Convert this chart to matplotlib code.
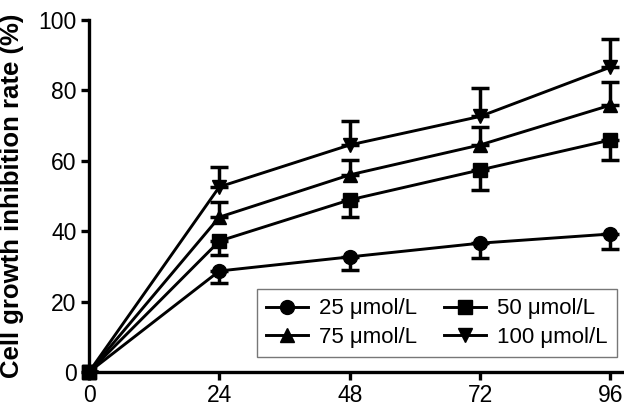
import matplotlib
matplotlib.use("Agg")
import matplotlib.pyplot as plt

plt.rcParams['font.family'] = ['Liberation Sans', 'DejaVu Sans']

hours = [0, 24, 48, 72, 96]
labels = ["25 \u03bcmol/L", "50 \u03bcmol/L", "75 \u03bcmol/L", "100 \u03bcmol/L"]
rate_25 = [0, 28.7, 32.7, 36.6, 39.2]
rate_50 = [0, 37.2, 48.9, 57.4, 65.9]
rate_75 = [0, 44.0, 56.0, 64.5, 75.8]
rate_100 = [0, 52.6, 64.5, 72.6, 86.6]
err_25 = [0, 3.4, 3.7, 4.2, 4.3]
err_50 = [0, 4.0, 4.8, 5.7, 5.8]
err_75 = [0, 4.3, 4.2, 5.1, 6.5]
err_100 = [0, 5.7, 6.8, 8.0, 8.0]

series = [
    (rate_25, err_25, "o", "lower"),
    (rate_50, err_50, "s", "lower"),
    (rate_75, err_75, "^", "upper"),
    (rate_100, err_100, "v", "upper"),
]

fig = plt.figure(figsize=(6.24, 4.08), dpi=100)
ax = fig.add_axes([89 / 624, 36 / 408, 535 / 624, 352 / 408])

handles = []
for (vals, errs, mk, side), lab in zip(series, labels):
    zeros = [0] * len(errs)
    yerr = [errs, zeros] if side == "lower" else [zeros, errs]
    ax.errorbar(hours, vals, yerr=yerr, fmt="none", ecolor="black",
                elinewidth=2.5, capsize=6.5, capthick=2.5, zorder=2)
    h, = ax.plot(hours, vals, color="black", lw=2.1, marker=mk,
                 markersize=10 if mk != "s" else 9.5, zorder=3, label=lab,
                 clip_on=False)
    handles.append(h)
# square at origin
ax.plot([0], [0], marker="s", color="black", markersize=10, zorder=4, clip_on=False)

ax.set_xlim(0, 98.5)
ax.set_ylim(0, 100)
ax.set_xticks(hours)
ax.set_yticks([0, 20, 40, 60, 80, 100])
for s in ["top", "right"]:
    ax.spines[s].set_visible(False)
for s in ["left", "bottom"]:
    ax.spines[s].set_linewidth(2.4)
ax.tick_params(width=2.4, length=6, labelsize=16.5, color="black")
ax.tick_params(axis="x", pad=3)
ax.tick_params(axis="y", pad=3)
ax.set_ylabel("Cell growth inhibition rate (%)", fontsize=18.5, fontweight="bold")
ax.yaxis.set_label_coords(-0.122, 0.50)

# row-wise order: 25, 50 / 75, 100
order = [0, 2, 1, 3]
leg = ax.legend(handles=[handles[i] for i in order], ncol=2, loc="lower right",
                bbox_to_anchor=(0.995, 0.03), fontsize=16, frameon=True,
                fancybox=False, edgecolor="#555555", handlelength=1.9,
                columnspacing=1.2, handletextpad=0.5, labelspacing=0.35,
                borderpad=0.4, borderaxespad=0.2)
leg.get_frame().set_linewidth(1.0)

fig.savefig("out.png", dpi=100)
